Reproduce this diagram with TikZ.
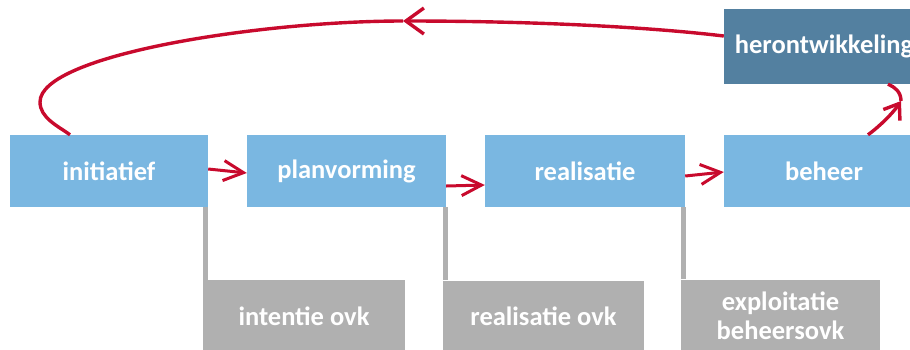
\documentclass[tikz,border=0pt]{standalone}
\usepackage{fontspec}
\setmainfont{Carlito}
\usetikzlibrary{arrows.meta}

\definecolor{phaseblue}{RGB}{122,183,225}
\definecolor{redevblue}{RGB}{83,128,160}
\definecolor{docgray}{RGB}{176,176,176}
\definecolor{flowred}{RGB}{200,10,45}

\begin{document}
\begin{tikzpicture}[x=1pt,y=-1pt,
  boxtext/.style={text=white, inner sep=0pt, align=center,
    font=\bfseries\fontsize{26.5}{29}\selectfont},
  phasebox/.style={boxtext, fill=phaseblue, minimum height=72pt},
  redevbox/.style={boxtext, fill=redevblue, minimum height=75pt, minimum width=200pt},
  docbox/.style={boxtext, fill=docgray, minimum height=72pt},
  doclink/.style={docgray, line width=5pt},
  flow/.style={flowred, line width=3pt, -{Straight Barb[length=20pt,width=20pt]}},
  cycle/.style={flowred, line width=3.4pt},
  cycletip/.style={cycle, -{Straight Barb[length=18pt,width=26pt]}},
  uptip/.style={cycle, -{Straight Barb[length=14pt,width=20pt]}}
]
\useasboundingbox (0,0) rectangle (910,349);
\clip (0,0) rectangle (910,349);

% phases
\node[phasebox, minimum width=198pt] (init) at (109,171) {initiatief};
\node[phasebox, minimum width=199pt] (plan) at (346.5,171) {planvorming};
\node[phasebox, minimum width=200pt] (real) at (585,171) {realisatie};
\node[phasebox, minimum width=200pt] (beh)  at (824,171) {beheer};
\node[redevbox] (heron) at (824,46.5) {herontwikkeling};

% documents below the phases
\node[docbox, minimum width=202pt] (d1) at (304,316) {intentie ovk};
\node[docbox, minimum width=201pt] (d2) at (543.5,316.5) {realisatie ovk};
\node[docbox, minimum width=199pt] (d3) at (780.5,315.5) {exploitatie\\beheersovk};

% brackets linking documents to phases
\draw[doclink] ([xshift=2.5pt]d1.north west) -- ([xshift=2.5pt]d1.north west |- init.south);
\draw[doclink] ([xshift=2.5pt]d2.north west) -- ([xshift=2.5pt]d2.north west |- plan.south);
\draw[doclink] ([xshift=2.5pt]d3.north west) -- ([xshift=2.5pt]d3.north west |- real.south);

% phase to phase
\draw[flow] ([yshift=2pt]init.east) -- ([yshift=-2pt]plan.west);
\draw[flow] ([yshift=-15pt]plan.east) -- ([yshift=-14pt]real.west);
\draw[flow] ([yshift=-5pt]real.east) -- ([yshift=-1pt]beh.west);

% beheer up to herontwikkeling
\coordinate (up) at (901,101);
\draw[uptip] ([xshift=44pt]beh.north) .. controls (880,126) and (893,113) .. (up);
\draw[cycle] (up) .. controls (901,92) and (895,87) .. ([xshift=64pt]heron.south);

% herontwikkeling back to initiatief
\coordinate (back) at (403,21);
\coordinate (turn) at (40,102);
\draw[cycletip] ([yshift=10.5pt]heron.west) .. controls (640,26) and (520,21) .. (back);
\draw[cycle] (back) .. controls (260,21) and (40,55) .. (turn)
  .. controls (40,118) and (58,126) .. ([xshift=-39pt]init.north);
\end{tikzpicture}
\end{document}
